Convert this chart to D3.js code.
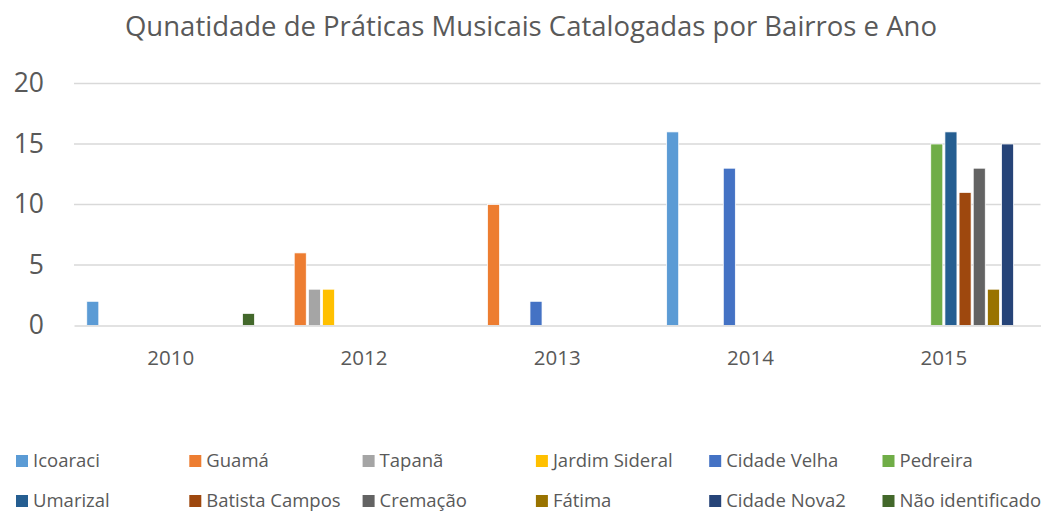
<!DOCTYPE html>
<html><head><meta charset="utf-8">
<script src="https://cdn.jsdelivr.net/npm/d3@7"></script>
<style>body{margin:0;background:#fff}svg{display:block}</style>
</head><body><svg id="c" width="1045" height="514"></svg>
<script>
const categories = ["2010","2012","2013","2014","2015"];
const seriesNames = ["Icoaraci","Guamá","Tapanã","Jardim Sideral","Cidade Velha","Pedreira","Umarizal","Batista Campos","Cremação","Fátima","Cidade Nova2","Não identificado"];
const seriesColors = ["#5B9BD5","#ED7D31","#A5A5A5","#FFC000","#4472C4","#70AD47","#255E91","#9E480E","#636363","#997300","#264478","#43682B"];
// values per series, in category order (null = no bar)
const Icoaraci = [2,null,null,16,null];
const Guama = [null,6,10,null,null];
const Tapana = [null,3,null,null,null];
const JardimSideral = [null,3,null,null,null];
const CidadeVelha = [null,null,2,13,null];
const Pedreira = [null,null,null,null,15];
const Umarizal = [null,null,null,null,16];
const BatistaCampos = [null,null,null,null,11];
const Cremacao = [null,null,null,null,13];
const Fatima = [null,null,null,null,3];
const CidadeNova2 = [null,null,null,null,15];
const NaoIdentificado = [1,null,null,null,null];
const yTicks = [0,5,10,15,20];
const title = "Qunatidade de Práticas Musicais Catalogadas por Bairros e Ano";

const seriesValues = [Icoaraci,Guama,Tapana,JardimSideral,CidadeVelha,Pedreira,Umarizal,BatistaCampos,Cremacao,Fatima,CidadeNova2,NaoIdentificado];
const FONT = "'Open Sans', Lato, sans-serif";
const svg = d3.select("#c");
const L = 74, R = 1040.5, T = 83.5, B = 325.5;

const x0 = d3.scaleBand().domain(categories).range([L,R]).padding(0);
const bw = x0.bandwidth();
const x1 = d3.scaleBand().domain(d3.range(seriesNames.length)).range([bw*0.066, bw*0.934]).paddingInner(0.15).paddingOuter(0);
const y = d3.scaleLinear().domain([0,20]).range([B,T]);

svg.append("text").attr("x",531).attr("y",36).attr("text-anchor","middle")
  .attr("font-family",FONT).attr("font-size",27.5).attr("fill","#595959").text(title);

// gridlines
svg.append("g").selectAll("line").data(yTicks.filter(d=>d>0)).join("line")
  .attr("x1",L).attr("x2",R).attr("y1",d=>y(d)).attr("y2",d=>y(d))
  .attr("stroke","#D9D9D9").attr("stroke-width",1.5);

// y axis
const ya = svg.append("g").attr("transform",`translate(${L},0)`)
  .call(d3.axisLeft(y).tickValues(yTicks).tickSize(0).tickPadding(30));
ya.select(".domain").remove();
ya.selectAll("text").attr("font-family",FONT).attr("font-size",26.5).attr("fill","#595959");

// bars
const groups = svg.append("g").selectAll("g").data(categories).join("g")
  .attr("transform",d=>`translate(${x0(d)},0)`);
groups.selectAll("rect").data((c,ci)=>seriesValues.map((s,si)=>({si,v:s[ci]})).filter(d=>d.v!=null)).join("rect")
  .attr("x",d=>x1(d.si)).attr("width",x1.bandwidth())
  .attr("y",d=>y(d.v)).attr("height",d=>y(0)-y(d.v))
  .attr("fill",d=>seriesColors[d.si]).attr("stroke","#fff").attr("stroke-width",0.75);

// x axis
const xa = svg.append("g").attr("transform",`translate(0,${B})`)
  .call(d3.axisBottom(x0).tickSize(0).tickPadding(25));
xa.select(".domain").attr("stroke","#D9D9D9").attr("stroke-width",1.5);
xa.selectAll("text").attr("font-family",FONT).attr("font-size",20.5).attr("fill","#595959");

// legend
const leg = svg.append("g").selectAll("g").data(seriesNames).join("g")
  .attr("transform",(d,i)=>`translate(${16 + (i%6)*173.3},${i<6?461:501})`);
leg.append("rect").attr("x",0).attr("y",-6).attr("width",12).attr("height",12).attr("fill",(d,i)=>seriesColors[i]);
leg.append("text").attr("x",17).attr("y",0).attr("dy","0.35em")
  .attr("font-family",FONT).attr("font-size",18.5).attr("fill","#595959").text(d=>d);
</script></body></html>
